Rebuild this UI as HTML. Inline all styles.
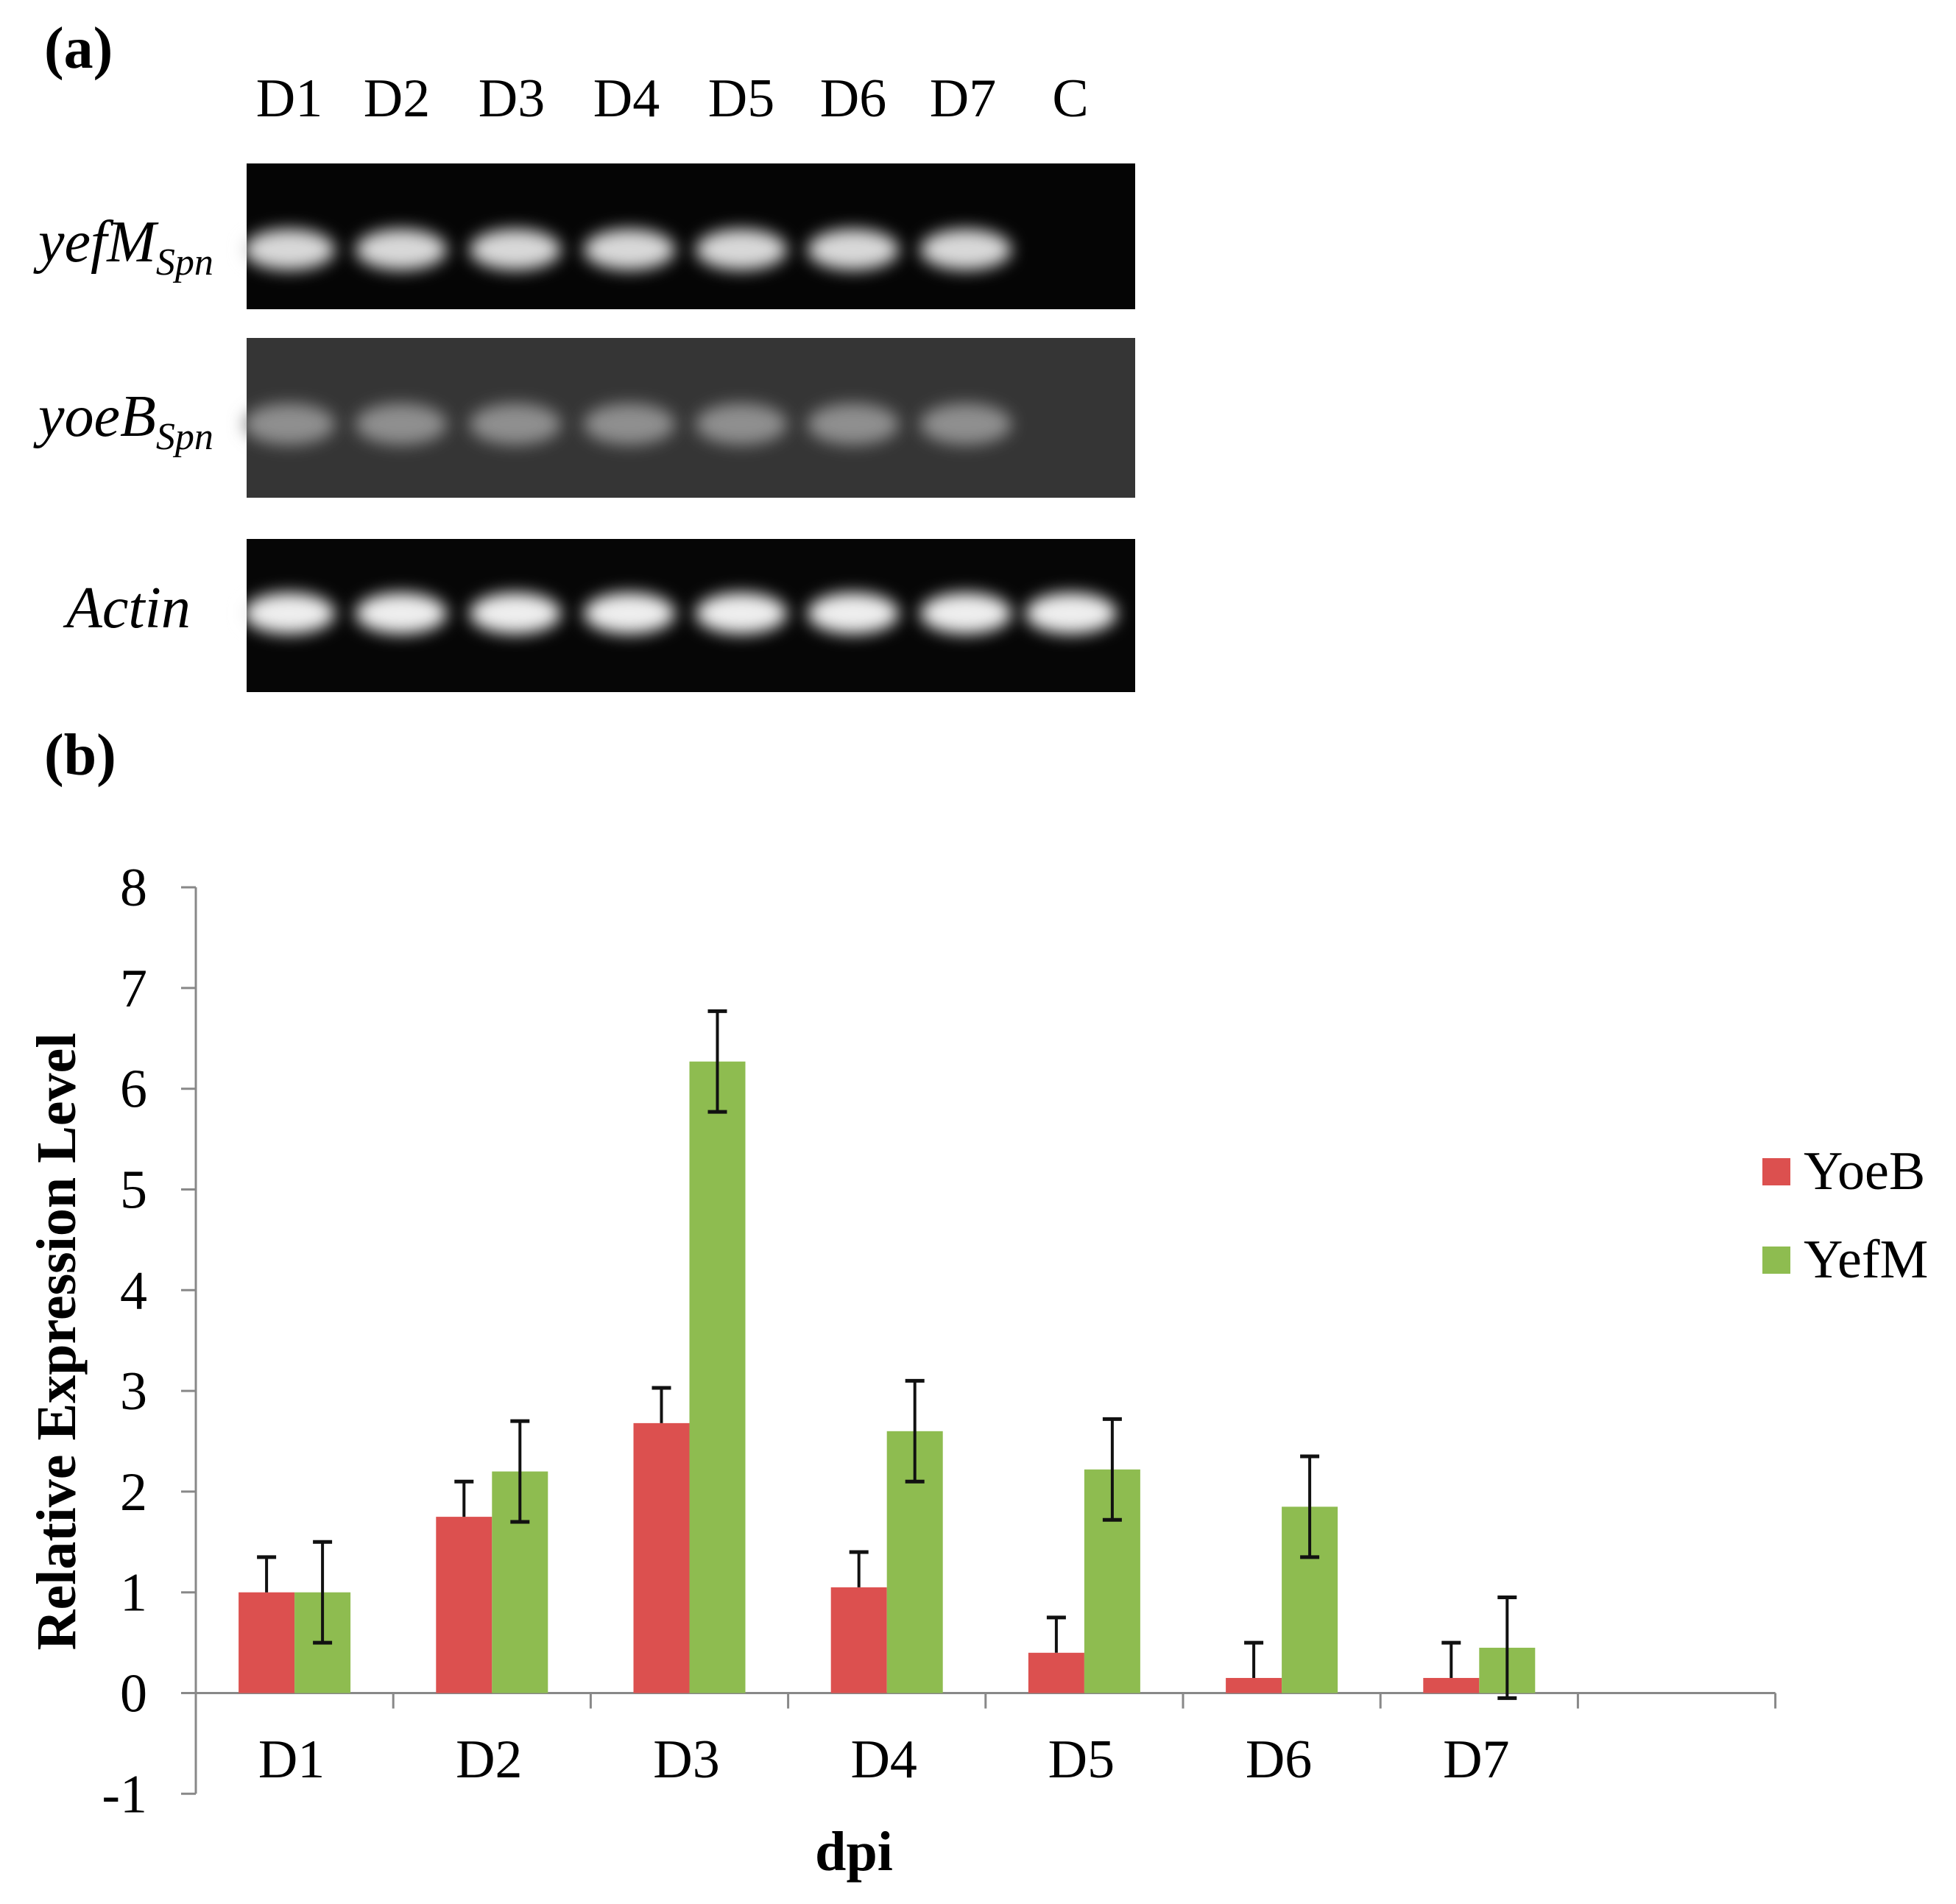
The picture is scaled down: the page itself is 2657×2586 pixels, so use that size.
<!DOCTYPE html>
<html><head><meta charset="utf-8"><style>
html,body{margin:0;padding:0;background:#fff;}
svg{display:block;font-family:"Liberation Serif",serif;}
</style></head><body>
<svg width="2657" height="2586" viewBox="0 0 2657 2586">
<defs><filter id="blur" x="-50%" y="-50%" width="200%" height="200%"><feGaussianBlur stdDeviation="11"/></filter></defs>
<text x="60" y="92" font-size="80" font-weight="bold">(a)</text>
<g id="lanes" font-size="74"></g>
<g id="gels"></g>
<g font-style="italic" font-size="80">
<text x="52" y="355">yefM<tspan font-size="52" dy="18">Spn</tspan></text>
<text x="52" y="592">yoeB<tspan font-size="52" dy="18">Spn</tspan></text>
<text x="90" y="852">Actin</text>
</g>
<text x="60" y="1052" font-size="80" font-weight="bold">(b)</text>
<g id="chart"></g>
</svg>
<script>
const lanes=["D1","D2","D3","D4","D5","D6","D7","C"];
const categories=["D1","D2","D3","D4","D5","D6","D7"];
const yoeb=[1.0,1.75,2.68,1.05,0.4,0.15,0.15];
const yoebErr=[0.35,0.35,0.35,0.35,0.35,0.35,0.35];
const yefm=[1.0,2.2,6.27,2.6,2.22,1.85,0.45];
const yefmErr=[0.5,0.5,0.5,0.5,0.5,0.5,0.5];
const yTicks=[-1,0,1,2,3,4,5,6,7,8];
const NS="http://www.w3.org/2000/svg";
function mk(p,t,a){const e=document.createElementNS(NS,t);for(const k in a)e.setAttribute(k,a[k]);p.appendChild(e);return e;}
const laneX=[393,539,695,851,1007,1159,1308,1454];
const bandX=[393,545,700,855,1007,1159,1312,1455];
const lg=document.getElementById('lanes');
lanes.forEach((l,i)=>{const t=mk(lg,'text',{x:laneX[i],y:158,'text-anchor':'middle'});t.textContent=l;

});
const gg=document.getElementById('gels');
const gels=[{y:222,h:198,bg:"#050505",by:339,n:7,c:"#d8d8d8"},{y:459,h:217,bg:"#353535",by:576,n:7,c:"#8f8f8f"},{y:732,h:208,bg:"#060606",by:833,n:8,c:"#eeeeee"}];
gels.forEach((g,gi)=>{const r=mk(gg,'rect',{x:335,y:g.y,width:1207,height:g.h,fill:g.bg});


for(let i=0;i<g.n;i++){const e=mk(gg,'ellipse',{cx:bandX[i],cy:g.by,rx:62,ry:28,fill:g.c,filter:'url(#blur)'});

}});
const ch=document.getElementById('chart');
const X0=266,CW=268.2,Y0=2299.5,U=136.8;
const ys=v=>Y0-v*U;
const RED="#dc504f",GREEN="#8ebc50",BW=76;
mk(ch,'line',{x1:X0,y1:ys(8),x2:X0,y2:ys(-1),stroke:'#888','stroke-width':3});
mk(ch,'line',{x1:X0,y1:Y0,x2:X0+8*CW,y2:Y0,stroke:'#888','stroke-width':3});
yTicks.forEach(v=>{mk(ch,'line',{x1:X0-20,y1:ys(v),x2:X0,y2:ys(v),stroke:'#888','stroke-width':3});
const t=mk(ch,'text',{x:200,y:ys(v)+25,'text-anchor':'end','font-size':74});t.textContent=v;

});
for(let i=0;i<=8;i++)mk(ch,'line',{x1:X0+i*CW,y1:Y0,x2:X0+i*CW,y2:Y0+21,stroke:'#888','stroke-width':3});
function err(x,v,e,both){const top=ys(v+e),bot=both?ys(v-e):ys(v);
mk(ch,'line',{x1:x,y1:top,x2:x,y2:bot,stroke:'#111','stroke-width':4});
mk(ch,'line',{x1:x-13,y1:top,x2:x+13,y2:top,stroke:'#111','stroke-width':5});
if(both)mk(ch,'line',{x1:x-13,y1:bot,x2:x+13,y2:bot,stroke:'#111','stroke-width':5});}
categories.forEach((c,i)=>{const cx=X0+(i+0.5)*CW;
const r=mk(ch,'rect',{x:cx-BW,y:ys(yoeb[i]),width:BW,height:yoeb[i]*U,fill:RED});


const g=mk(ch,'rect',{x:cx,y:ys(yefm[i]),width:BW,height:yefm[i]*U,fill:GREEN});


err(cx-BW/2,yoeb[i],yoebErr[i],false);
err(cx+BW/2,yefm[i],yefmErr[i],true);
const t=mk(ch,'text',{x:cx-4,y:2414,'text-anchor':'middle','font-size':74});t.textContent=c;

});
const yt=mk(ch,'text',{x:0,y:0,'text-anchor':'middle','font-size':76,'font-weight':'bold',transform:'translate(102,1822) rotate(-90)'});yt.textContent="Relative Expression Level";


const xt=mk(ch,'text',{x:1160,y:2540,'text-anchor':'middle','font-size':76,'font-weight':'bold'});xt.textContent="dpi";


[["YoeB",RED,1573],["YefM",GREEN,1693]].forEach(([n,c,y])=>{
const s=mk(ch,'rect',{x:2394,y:y,width:38,height:37,fill:c});


const t=mk(ch,'text',{x:2450,y:y+42,'font-size':74});t.textContent=n;

});
</script>
</body></html>
